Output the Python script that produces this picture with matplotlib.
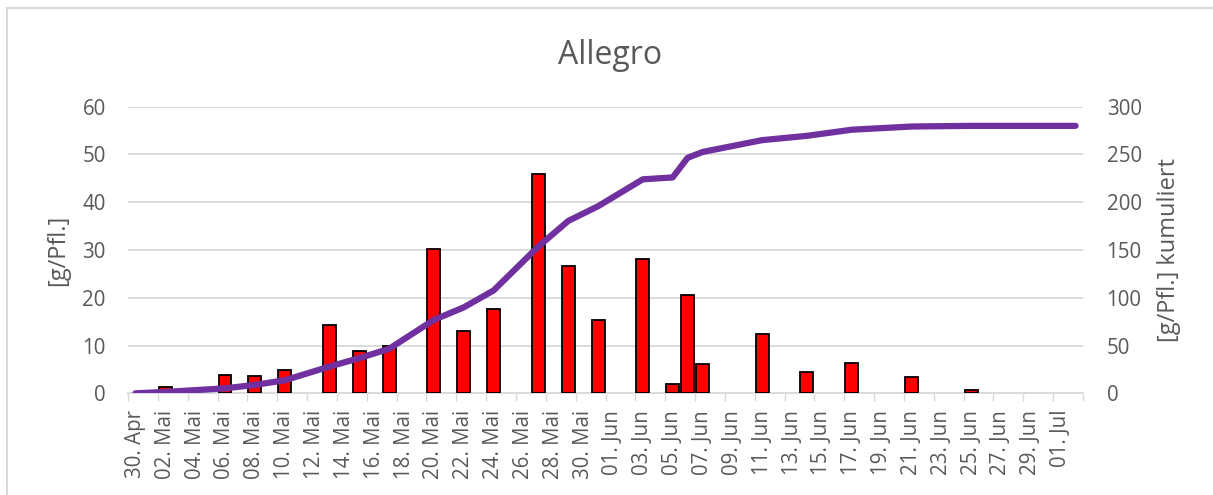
import numpy as np
import pandas as pd
import matplotlib
matplotlib.use("Agg")
import matplotlib.pyplot as plt
from matplotlib.patches import Rectangle

# ---- data ----
start_date = "2021-04-30"
end_date = "2021-07-02"
bar_dates = ["2021-05-02", "2021-05-06", "2021-05-08", "2021-05-10", "2021-05-13",
             "2021-05-15", "2021-05-17", "2021-05-20", "2021-05-22", "2021-05-24",
             "2021-05-27", "2021-05-29", "2021-05-31", "2021-06-03", "2021-06-05",
             "2021-06-06", "2021-06-07", "2021-06-11", "2021-06-14", "2021-06-17",
             "2021-06-21", "2021-06-25"]
bar_values = [1.4, 3.8, 3.6, 4.8, 14.4, 8.8, 9.8, 30.25, 13.1, 17.7,
              46.0, 26.75, 15.4, 28.2, 1.95, 20.5, 6.15, 12.4, 4.5, 6.4,
              3.35, 0.7]
tick_labels = ["30. Apr", "02. Mai", "04. Mai", "06. Mai", "08. Mai", "10. Mai",
               "12. Mai", "14. Mai", "16. Mai", "18. Mai", "20. Mai", "22. Mai",
               "24. Mai", "26. Mai", "28. Mai", "30. Mai", "01. Jun", "03. Jun",
               "05. Jun", "07. Jun", "09. Jun", "11. Jun", "13. Jun", "15. Jun",
               "17. Jun", "19. Jun", "21. Jun", "23. Jun", "25. Jun", "27. Jun",
               "29. Jun", "01. Jul"]
title = "Allegro"
ylabel_left = "[g/Pfl.]"
ylabel_right = "[g/Pfl.] kumuliert"

# ---- derived ----
t0 = pd.Timestamp(start_date)
bar_x = np.array([(pd.Timestamp(d) - t0).days for d in bar_dates])
n_days = (pd.Timestamp(end_date) - t0).days + 1
line_x = np.concatenate([[0], bar_x, [n_days - 1]])
cum = np.cumsum(bar_values)
line_y = np.concatenate([[0], cum, [cum[-1]]])

plt.rcParams['font.family'] = ['Open Sans', 'DejaVu Sans']
txt = "#595959"
grid = "#D9D9D9"

W, H = 1213, 495
fig = plt.figure(figsize=(W / 100, H / 100), dpi=100)
ax = fig.add_axes([128 / W, 1 - 393.3 / H, (1083 - 128) / W, (393.3 - 106.7) / H])
ax2 = ax.twinx()

ax.bar(bar_x, bar_values, width=0.87, color="#FF0000", edgecolor="black",
       linewidth=1.3, zorder=3)
ax2.plot(line_x, line_y, color="#7030A0", linewidth=4.5,
         solid_capstyle="round", solid_joinstyle="round", zorder=4)

ax.set_xlim(-0.5, n_days - 0.5)
ax.set_ylim(0, 60)
ax2.set_ylim(0, 300)
ax.set_yticks(np.arange(0, 61, 10))
ax2.set_yticks(np.arange(0, 301, 50))

ax.set_xticks(np.arange(0, n_days, 2)[:len(tick_labels)])
ax.set_xticklabels(tick_labels, rotation=90, fontsize=14.8, color=txt)
ax.set_xticks(np.arange(-0.5, n_days, 2), minor=True)
ax.tick_params(axis='x', which='major', length=0, pad=12)
ax.tick_params(axis='x', which='minor', length=6, width=1, color=grid)

ax.tick_params(axis='y', length=0, pad=16, labelsize=14.8, labelcolor=txt)
ax2.tick_params(axis='y', length=0, pad=17, labelsize=14.8, labelcolor=txt)

ax.yaxis.grid(True, color=grid, linewidth=1.3, zorder=0)
ax.set_axisbelow(True)
for a in (ax, ax2):
    for s in ("top", "left", "right"):
        a.spines[s].set_visible(False)
    a.spines["bottom"].set_color(grid)
    a.spines["bottom"].set_linewidth(1.3)
ax2.spines["bottom"].set_visible(False)
ax2.patch.set_visible(False)

fig.text(58 / W, 1 - 250 / H, ylabel_left, rotation=90, ha='center', va='center',
         fontsize=17, color=txt)
fig.text(1169 / W, 1 - 250 / H, ylabel_right, rotation=90, ha='center', va='center',
         fontsize=17, color=txt)
fig.text(610 / W, 1 - 63.5 / H, title, ha='center', va='baseline',
         fontsize=23, color=txt)

fig.add_artist(Rectangle((7 / W, -0.1), 1.2, 1 - 8 / H + 0.1, transform=fig.transFigure,
                         fill=False, edgecolor=grid, linewidth=1.5))

fig.savefig("out.png", dpi=100)
